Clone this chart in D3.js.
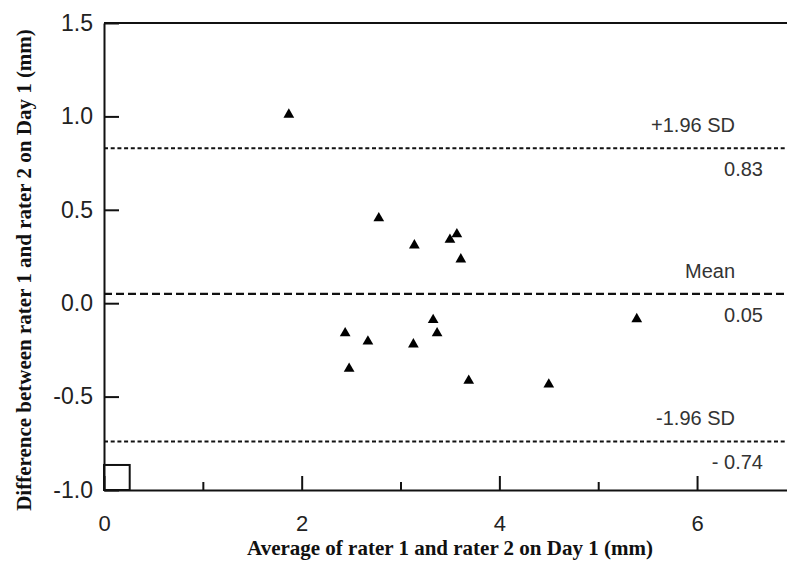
<!DOCTYPE html>
<html>
<head>
<meta charset="utf-8">
<script src="https://cdn.jsdelivr.net/npm/d3@7"></script>
<style>
  body { margin: 0; background: #fff; }
  svg { display: block; }
</style>
</head>
<body>
<div id="chart"></div>
<script>
// Bland-Altman data: average vs difference of rater 1 and rater 2 (Day 1)
const avgValues = [1.87, 2.78, 3.14, 3.50, 3.57, 3.61, 3.33, 3.37, 2.44, 2.67, 3.13, 2.48, 3.69, 4.50, 5.39];
const diffValues = [1.01, 0.455, 0.31, 0.34, 0.37, 0.235, -0.09, -0.16, -0.16, -0.205, -0.22, -0.35, -0.415, -0.435, -0.085];

const limitValues = [0.83, 0.05, -0.74];
const limitNames = ["+1.96 SD", "Mean", "-1.96 SD"];
const limitLabels = ["0.83", "0.05", "- 0.74"];

const yTicks = [-1.0, -0.5, 0.0, 0.5, 1.0, 1.5];
const xMajorTicks = [0, 2, 4, 6];
const xMinorTicks = [1, 3, 5];

const width = 787, height = 565;
const margin = {top: 23, right: 0, bottom: 75, left: 104};

const svg = d3.select("#chart")
    .append("svg")
    .attr("width", width)
    .attr("height", height)
    .style("background", "#fff");

const x = d3.scaleLinear()
    .domain([0, 6.91])
    .range([margin.left, width - margin.right]);

const y = d3.scaleLinear()
    .domain([-1.0, 1.5])
    .range([height - margin.bottom, margin.top]);

// limit lines (dotted for SD, dashed for mean)
limitValues.forEach((v, i) => {
    const isMean = i === 1;
    svg.append("line")
        .attr("x1", x.range()[0])
        .attr("x2", x.range()[1])
        .attr("y1", y(v))
        .attr("y2", y(v))
        .attr("stroke", "#111")
        .attr("stroke-width", isMean ? 2.4 : 2)
        .attr("stroke-dasharray", isMean ? "8,4" : "4,2.7");
    svg.append("text")
        .attr("x", 735)
        .attr("y", y(v) - 16)
        .attr("text-anchor", "end")
        .attr("font-family", "Liberation Sans, Arial, sans-serif")
        .attr("font-size", 20)
        .attr("fill", "#333")
        .text(limitNames[i]);
    svg.append("text")
        .attr("x", 763)
        .attr("y", y(v) + 28)
        .attr("text-anchor", "end")
        .attr("font-family", "Liberation Sans, Arial, sans-serif")
        .attr("font-size", 20)
        .attr("fill", "#333")
        .text(limitLabels[i]);
});

// Y axis, ticks pointing inward
const yAxis = svg.append("g")
    .attr("transform", `translate(${margin.left},0)`)
    .call(d3.axisLeft(y)
        .tickValues(yTicks)
        .tickSizeInner(-15)
        .tickSizeOuter(0)
        .tickPadding(11)
        .tickFormat(d => d.toFixed(1)));

// X axis: major ticks labelled, minor ticks shorter
const xAxis = svg.append("g")
    .attr("transform", `translate(0,${y(-1.0)})`)
    .call(d3.axisBottom(x)
        .tickValues(xMajorTicks)
        .tickSizeInner(-14)
        .tickSizeOuter(0)
        .tickPadding(25)
        .tickFormat(d3.format("d")));

svg.append("g")
    .attr("transform", `translate(0,${y(-1.0)})`)
    .call(d3.axisBottom(x)
        .tickValues(xMinorTicks)
        .tickSizeInner(-8)
        .tickSizeOuter(0)
        .tickFormat(""))
    .select(".domain").remove();

yAxis.selectAll("text").attr("font-size", 23);
xAxis.selectAll("text").attr("font-size", 22);
[yAxis, xAxis].forEach(g => {
    g.selectAll("path, line").attr("stroke", "#111").attr("stroke-width", 2);
    g.selectAll("text")
        .attr("font-family", "Liberation Sans, Arial, sans-serif")
        .attr("fill", "#222");
});
svg.selectAll("g line").attr("stroke", "#111").attr("stroke-width", 2);

// top frame line
svg.append("line")
    .attr("x1", x.range()[0])
    .attr("x2", x.range()[1])
    .attr("y1", y(1.5))
    .attr("y2", y(1.5))
    .attr("stroke", "#111")
    .attr("stroke-width", 2);

// small box in the origin corner
svg.append("rect")
    .attr("x", x(0))
    .attr("y", y(-0.866))
    .attr("width", x(0.26) - x(0))
    .attr("height", y(-1.0) - y(-0.866))
    .attr("fill", "none")
    .attr("stroke", "#111")
    .attr("stroke-width", 2);

// points
svg.append("g")
    .selectAll("path")
    .data(avgValues)
    .join("path")
    .attr("d", d3.symbol(d3.symbolTriangle, 50))
    .attr("transform", (d, i) => `translate(${x(d)},${y(diffValues[i])})`)
    .attr("fill", "#000");

// axis titles
svg.append("text")
    .attr("x", 450)
    .attr("y", 555)
    .attr("text-anchor", "middle")
    .attr("font-family", "Liberation Serif, Times New Roman, serif")
    .attr("font-weight", "bold")
    .attr("font-size", 21)
    .attr("fill", "#111")
    .text("Average of rater 1 and rater 2 on Day 1 (mm)");

svg.append("text")
    .attr("transform", `translate(31,${270}) rotate(-90)`)
    .attr("text-anchor", "middle")
    .attr("font-family", "Liberation Serif, Times New Roman, serif")
    .attr("font-weight", "bold")
    .attr("font-size", 21)
    .attr("fill", "#111")
    .text("Difference between rater 1 and rater 2 on Day 1 (mm)");
</script>
</body>
</html>
